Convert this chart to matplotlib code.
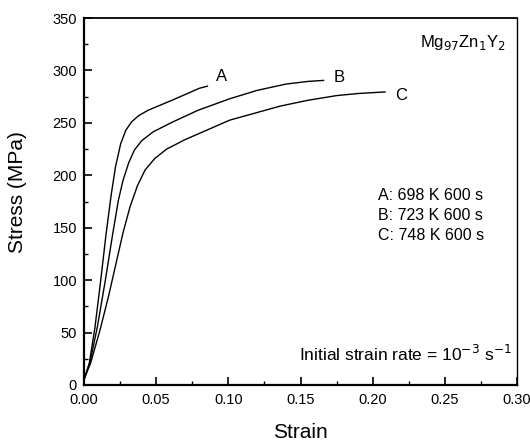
import numpy as np
import matplotlib.pyplot as plt

plt.rcParams['font.family'] = ['Liberation Sans', 'DejaVu Sans']

# curvas tensao-deformacao
strain_a = [0.0005, 0.0037, 0.0076, 0.0116, 0.0152, 0.0187, 0.0218, 0.0254, 0.0290, 0.0330, 0.0380, 0.0444, 0.0617, 0.0800, 0.0855]
stress_a = [7, 21, 55, 100, 143, 180, 208, 230, 243, 251, 257, 262, 272, 283, 285]

strain_b = [0.0005, 0.0042, 0.0092, 0.0148, 0.0200, 0.0238, 0.0270, 0.0310, 0.0349, 0.0400, 0.0480, 0.0617, 0.0790, 0.1010, 0.1200, 0.1400, 0.1550, 0.1660]
stress_b = [7, 22, 55, 100, 145, 176, 195, 212, 224, 233, 241.5, 251, 262, 273, 281, 287, 289.5, 290.5]

strain_c = [0.0005, 0.0046, 0.0110, 0.0169, 0.0222, 0.0270, 0.0319, 0.0370, 0.0423, 0.0490, 0.0573, 0.0700, 0.0800, 0.1010, 0.1360, 0.1550, 0.1750, 0.1900, 0.2086]
stress_c = [7, 21, 52, 84, 116, 145, 170, 190, 205, 216, 225, 234, 240, 252.6, 266, 271.5, 276, 278, 279.5]

curve_labels = ['A', 'B', 'C']
legend_lines = ['A: 698 K 600 s', 'B: 723 K 600 s', 'C: 748 K 600 s']

fig = plt.figure(figsize=(5.30, 4.43), dpi=100)
ax = fig.add_axes([84/530, 1 - 385/443, 433/530, 367/443])

curves = [(strain_a, stress_a), (strain_b, stress_b), (strain_c, stress_c)]
for sx, sy in curves:
    ax.plot(sx, sy, color='black', lw=1.0)

# rotulos das curvas no fim de cada uma
offsets = [(0.006, 9), (0.007, 3), (0.007, -3)]
for lab, (sx, sy), (dx, dy) in zip(curve_labels, curves, offsets):
    ax.text(sx[-1] + dx, sy[-1] + dy, lab, fontsize=12, ha='left', va='center')

ax.text(0.292, 327, r'Mg$_{97}$Zn$_{1}$Y$_{2}$', fontsize=12, ha='right', va='center')
for i, t in enumerate(legend_lines):
    ax.text(0.2035, 181 - i * 19, t, fontsize=11.5, ha='left', va='center')
ax.text(0.2965, 30, r'Initial strain rate = 10$^{-3}$ s$^{-1}$', fontsize=12.5, ha='right', va='center')

ax.set_xlim(0, 0.30)
ax.set_ylim(0, 350)
ax.set_xticks(np.arange(0, 0.301, 0.05))
ax.set_xticks(np.arange(0.025, 0.3, 0.05), minor=True)
ax.set_yticks(np.arange(0, 351, 50))
ax.set_yticks(np.arange(25, 350, 50), minor=True)
ax.xaxis.set_major_formatter(plt.FormatStrFormatter('%.2f'))
ax.tick_params(which='both', direction='in', top=False, right=False, labelsize=10.5)
ax.tick_params(which='major', length=6, width=1.2)
ax.tick_params(which='minor', length=3, width=1.0)
ax.tick_params(axis='x', pad=6)
ax.tick_params(axis='y', pad=5)

ax.spines['left'].set_linewidth(1.6)
ax.spines['bottom'].set_linewidth(1.6)
ax.spines['top'].set_linewidth(1.3)
ax.spines['right'].set_linewidth(1.0)

# titulos dos eixos posicionados direto na figura
fig.text(300/530, 1 - 432/443, 'Strain', fontsize=15, ha='center', va='center')
fig.text(18/530, 1 - 192/443, 'Stress (MPa)', fontsize=15, ha='center', va='center', rotation=90)

fig.savefig('out.png', dpi=100)
